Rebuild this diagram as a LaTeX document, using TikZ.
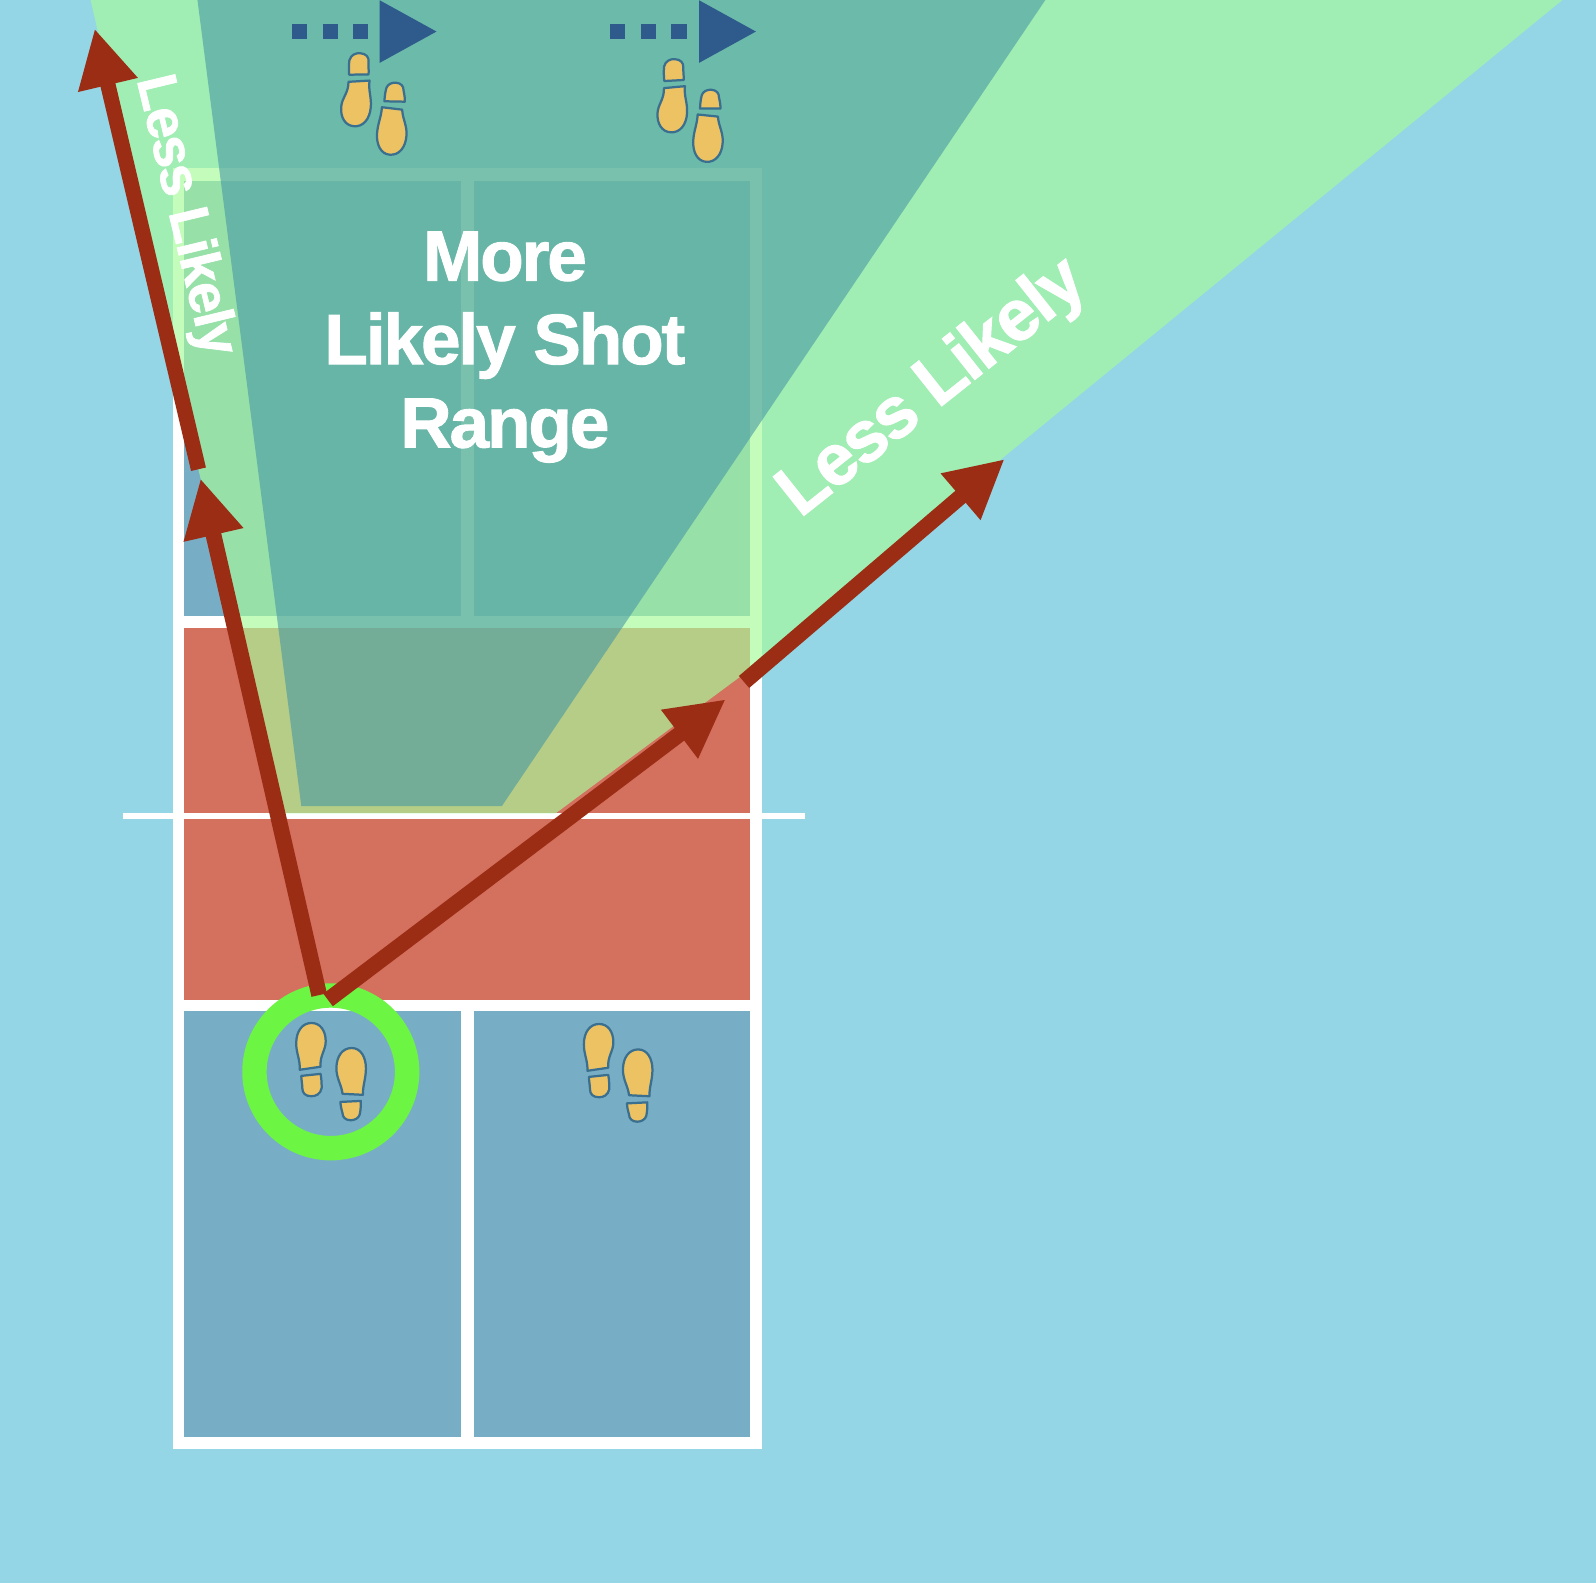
\documentclass[tikz,border=0pt]{standalone}
\usepackage{fontspec}
\setmainfont{Liberation Sans}
\newfontfamily\heavyfont[BoldFeatures={FakeBold=1.3,LetterSpace=-3}]{Liberation Sans}
\usetikzlibrary{arrows.meta}
\definecolor{bgblue}{HTML}{94D5E6}
\definecolor{cellblue}{HTML}{78AEC5}
\definecolor{kitchenred}{HTML}{D3705E}
\definecolor{fangreen}{RGB}{167,251,155}
\definecolor{fanteal}{RGB}{72,152,165}
\definecolor{ringgreen}{HTML}{6CF542}
\definecolor{shotred}{HTML}{9B2D14}
\definecolor{moveblue}{HTML}{2E5A8C}
\definecolor{shoefill}{HTML}{EDC263}
\definecolor{shoeline}{HTML}{3A6F8F}
\tikzset{
  x=1pt,y=-1pt,
  cell/.style={fill=cellblue,draw=none},
  shot/.style={draw=shotred,line width=15.5pt,-{Triangle[length=57pt,width=56pt,color=shotred]}},
  move/.style={draw=moveblue,line width=15pt,dash pattern=on 15pt off 15pt,-{Triangle[length=57pt,width=57pt,color=moveblue]}},
  bigtext/.style={text=white,font=\fontsize{70}{82}\selectfont\heavyfont\bfseries,align=center,inner sep=0pt},
  sidetext/.style={text=white,inner sep=0pt},
  shoepart/.style={fill=shoefill,draw=shoeline,line width=2.2pt,line join=round},
  shoe/.pic={
    \draw[shoepart]
      (0,0) .. controls (9,0) and (14,8) .. (14,18)
      .. controls (14,27) and (8,32) .. (9,43)
      -- (-11.5,46)
      .. controls (-11,36) and (-15,30) .. (-15,20)
      .. controls (-15,8) and (-9,0) .. (0,0) -- cycle;
    \draw[shoepart]
      (-10,52) -- (9,50)
      .. controls (10,56) and (10,60) .. (10,64)
      .. controls (9,70) and (4,72) .. (0,72)
      .. controls (-6,72) and (-9,69) .. (-9,64)
      .. controls (-9,60) and (-10,56) .. (-10,52) -- cycle;
  },
  shoeb/.pic={
    \draw[shoepart]
      (0,0) .. controls (9,0) and (14,9) .. (14,20)
      .. controls (14,30) and (11,36) .. (11,46)
      -- (-9,45)
      .. controls (-10,36) and (-15,30) .. (-15,20)
      .. controls (-15,8) and (-9,0) .. (0,0) -- cycle;
    \draw[shoepart]
      (-11,53) -- (9,52)
      .. controls (9,56) and (9,60) .. (8,65)
      .. controls (7,69) and (3,71) .. (-1,71)
      .. controls (-6,71) and (-9,68) .. (-9,64)
      .. controls (-10,60) and (-11,57) .. (-11,53) -- cycle;
  }
}
\begin{document}
\begin{tikzpicture}
\useasboundingbox (0,0) rectangle (1568,1555);
\fill[bgblue] (0,0) rectangle (1568,1555);
% court
\fill[white] (170,165) rectangle (749,1424);
\fill[cell] (181,178) rectangle (453,605);
\fill[cell] (466,178) rectangle (737,605);
\fill[kitchenred] (181,617) rectangle (737,982);
\fill[cell] (181,993) rectangle (453,1412);
\fill[cell] (466,993) rectangle (737,1412);
\fill[white] (121,799) rectangle (791,804.5);
% shot ranges
\fill[fangreen,fill opacity=.67] (89,0) -- (197,470) -- (266,799) -- (546,799) -- (727,665) -- (985,450) -- (1535,0) -- cycle;
\fill[fanteal,fill opacity=.6] (194,0) -- (1027,0) -- (493,792) -- (296,792) -- cycle;
% labels
\node[bigtext] (more) at (496,341) {More\\Likely Shot\\Range};
\node[sidetext,font=\fontsize{71}{75}\selectfont\heavyfont\bfseries,rotate=38.5] (lessR) at (917,382) {Less Likely};
\node[sidetext,font=\fontsize{55}{59}\selectfont\heavyfont\bfseries,rotate=-76.5] (lessL) at (181,212) {Less Likely};
% player ring
\node[circle,draw=ringgreen,line width=24pt,minimum size=150pt,inner sep=0pt] (ring) at (325,1053) {};
% shots
\coordinate (aStart) at (313.6,977.6);
\coordinate (aEnd) at (197,470);
\coordinate (bStart) at (195,461);
\coordinate (bEnd) at (93,28);
\coordinate (cStart) at (322.3,982.4);
\coordinate (cEnd) at (713,687);
\coordinate (dStart) at (731,670);
\coordinate (dEnd) at (987,451);
\draw[shot] (aStart) -- (aEnd);
\draw[shot,line width=15pt] (bStart) -- (bEnd);
\draw[shot] (cStart) -- (cEnd);
\draw[shot] (dStart) -- (dEnd);
% movement arrows
\coordinate (m1s) at (287,31);
\coordinate (m1e) at (430,31);
\coordinate (m2s) at (599.5,31);
\coordinate (m2e) at (743.8,31);
\draw[move] (m1s) -- (m1e);
\draw[move] (m2s) -- (m2e);
% feet
\pic at (306,1005) {shoe};
\pic at (345.5,1029.6) {shoeb};
\pic at (588.6,1006) {shoe};
\pic at (627,1031) {shoeb};
\pic[rotate=175] at (347.6,124) {shoe};
\pic[rotate=176] at (383,152) {shoeb};
\pic[rotate=177] at (659,130) {shoe};
\pic[rotate=177] at (694,159) {shoeb};
\end{tikzpicture}
\end{document}
